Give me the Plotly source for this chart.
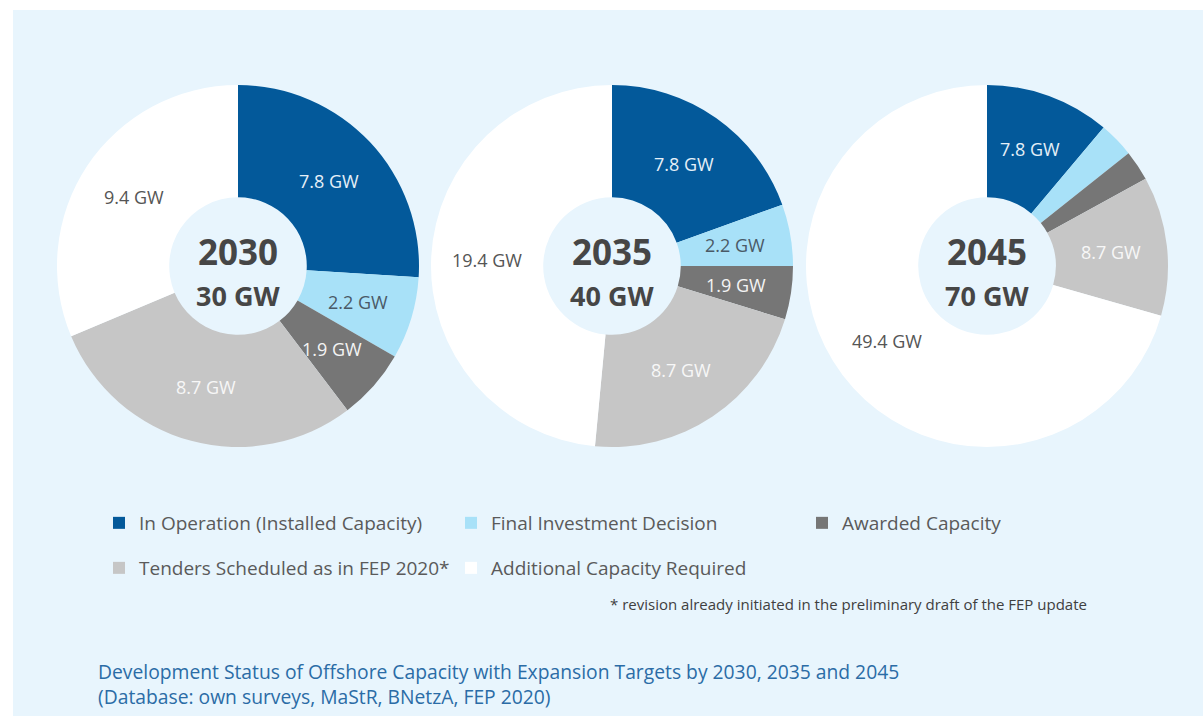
import math
import plotly.graph_objects as go

W, H = 1203, 716

categories = ["In Operation (Installed Capacity)", "Final Investment Decision",
              "Awarded Capacity", "Tenders Scheduled as in FEP 2020*",
              "Additional Capacity Required"]
colors = ["#03599A", "#A8E1F8", "#767676", "#C6C6C6", "#FFFFFF"]

years = ["2030", "2035", "2045"]
targets = ["30 GW", "40 GW", "70 GW"]
values_2030 = [7.8, 2.2, 1.9, 8.7, 9.4]
values_2035 = [7.8, 2.2, 1.9, 8.7, 19.4]
values_2045 = [7.8, 2.2, 1.9, 8.7, 49.4]
all_values = [values_2030, values_2035, values_2045]
# which slice labels are printed on each ring
show_label = [[True] * 5, [True] * 5, [True, False, False, True, True]]

label_colors = ["#E6F0F8", "#4A5966", "#F4F4F4", "#F7F7F7", "#555555"]

BG = "#E8F5FD"
FONT = "Open Sans"

# pixel layout of the three rings
R = 181
HOLE = 0.38
centers_px = [(238, 266), (612, 266), (987, 266)]

fig = go.Figure()

for i, (vals, yr, tg) in enumerate(zip(all_values, years, targets)):
    cx, cy = centers_px[i]
    dom_x = [(cx - R) / W, (cx + R) / W]
    dom_y = [1 - (cy + R) / H, 1 - (cy - R) / H]
    fig.add_trace(go.Pie(
        labels=categories, values=vals, textinfo="none",
        marker=dict(colors=colors, line=dict(width=0)),
        hole=HOLE, sort=False, direction="clockwise", rotation=0,
        domain=dict(x=dom_x, y=dom_y), showlegend=False,
        hoverinfo="label+value",
    ))
    # value labels at the middle of each ring segment (derived from the values)
    total = sum(vals)
    r_mid = R * (1 + HOLE) / 2
    cum = 0.0
    for v, show, tc in zip(vals, show_label[i], label_colors):
        ang = 2 * math.pi * (cum + v / 2) / total
        cum += v
        if not show:
            continue
        px = cx + r_mid * math.sin(ang)
        py = cy - r_mid * math.cos(ang)
        fig.add_annotation(x=px / W, y=1 - py / H, xref="paper", yref="paper",
                           xanchor="center", yanchor="middle", showarrow=False,
                           text=f"{v:g} GW",
                           font=dict(family=FONT, size=18, color=tc))
    fig.add_annotation(x=cx / W, y=1 - 251 / H, xref="paper", yref="paper",
                       xanchor="center", yanchor="middle",
                       text=f"<b>{yr}</b>", showarrow=False,
                       font=dict(family=FONT, size=35, color="#464646"))
    fig.add_annotation(x=cx / W, y=1 - 295 / H, xref="paper", yref="paper",
                       xanchor="center", yanchor="middle",
                       text=f"<b>{tg}</b>", showarrow=False,
                       font=dict(family=FONT, size=27, color="#464646"))

# legend entries, each in its own legend box
legend_pos = [(99, 523), (451, 523), (802, 523), (99, 568), (451, 568)]
legend_names = ["legend", "legend2", "legend3", "legend4", "legend5"]
layout_legends = {}
for name, cat, col, (lx, ly) in zip(legend_names, categories, colors, legend_pos):
    fig.add_trace(go.Scatter(
        x=[None], y=[None], mode="markers", name=cat, legend=name,
        marker=dict(symbol="square", size=12, color=col, line=dict(width=0)),
        showlegend=True, hoverinfo="skip",
    ))
    layout_legends[name] = dict(
        x=lx / W, y=1 - ly / H, xanchor="left", yanchor="middle",
        bgcolor="rgba(0,0,0,0)", borderwidth=0,
        font=dict(family=FONT, size=19, color="#5A5A5A"),
    )

fig.add_annotation(x=1089 / W, y=1 - 604 / H, xref="paper", yref="paper",
                   xanchor="right", yanchor="middle", showarrow=False,
                   text="* revision already initiated in the preliminary draft of the FEP update",
                   font=dict(family=FONT, size=15, color="#404040"))

fig.add_annotation(x=96 / W, y=1 - 684 / H, xref="paper", yref="paper",
                   xanchor="left", yanchor="middle", showarrow=False, align="left",
                   text="Development Status of Offshore Capacity with Expansion Targets by 2030, 2035 and 2045"
                        "<br>(Database: own surveys, MaStR, BNetzA, FEP 2020)",
                   font=dict(family=FONT, size=19.3, color="#2B6CA6"))

fig.add_shape(type="rect", xref="paper", yref="paper",
              x0=13 / W, x1=1, y0=0, y1=1 - 10 / H,
              fillcolor=BG, line=dict(width=0), layer="below")

fig.update_layout(
    width=W, height=H,
    margin=dict(l=0, r=0, t=0, b=0),
    paper_bgcolor="#FFFFFF", plot_bgcolor="rgba(0,0,0,0)",
    xaxis=dict(visible=False), yaxis=dict(visible=False),
    font=dict(family=FONT),
    **layout_legends,
)

fig.write_html("out.html", config={"displayModeBar": False},
               post_script="document.body.style.margin='0px';")
